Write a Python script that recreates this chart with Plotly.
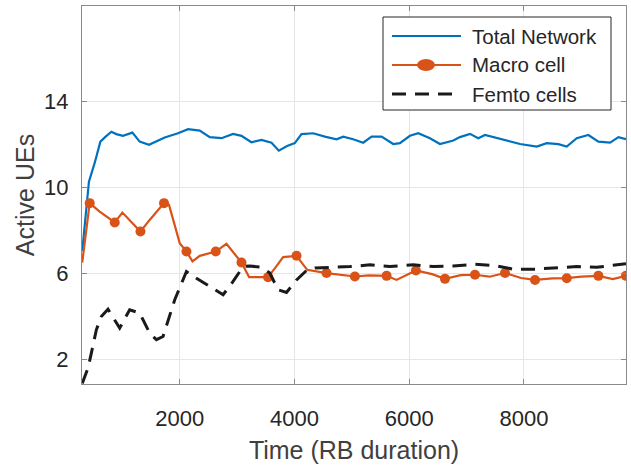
import plotly.graph_objects as go

# ---------------- data ----------------
total_x = [300, 417, 517, 616, 708, 808, 895, 1010, 1175, 1302, 1464, 1593, 1738, 1970, 2145,
           2349, 2523, 2727, 2930, 3076, 3250, 3425, 3600, 3727, 3872, 4006, 4123, 4326, 4530,
           4734, 4850, 5024, 5198, 5345, 5519, 5722, 5839, 6013, 6158, 6362, 6537, 6769, 6885,
           7060, 7205, 7322, 7467, 7700, 7933, 8224, 8398, 8601, 8747, 8921, 9124, 9299, 9503,
           9648, 9780]
total_y = [7.05, 10.28, 11.15, 12.14, 12.37, 12.6, 12.49, 12.41, 12.56, 12.14, 11.99, 12.14, 12.33,
           12.53, 12.72, 12.65, 12.35, 12.30, 12.50, 12.41, 12.11, 12.22, 12.09, 11.72, 11.94,
           12.07, 12.49, 12.53, 12.37, 12.25, 12.37, 12.25, 12.09, 12.37, 12.37, 12.03, 12.07,
           12.41, 12.53, 12.30, 12.03, 12.19, 12.35, 12.50, 12.30, 12.45, 12.35, 12.22, 12.03,
           11.91, 12.07, 12.02, 11.91, 12.30, 12.45, 12.14, 12.09, 12.35, 12.25]

macro_x = [300, 430, 604, 867, 1000, 1315, 1476, 1726, 1813, 2000, 2117, 2222, 2349, 2628, 2814,
           3076, 3209, 3540, 3680, 3803, 4036, 4221, 4559, 4800, 5053, 5300, 5606, 5780, 6117,
           6400, 6624, 6900, 7147, 7400, 7671, 7950, 8194, 8500, 8747, 9000, 9299, 9550, 9780]
macro_y = [6.52, 9.28, 8.89, 8.38, 8.84, 7.96, 8.50, 9.28, 9.20, 7.42, 7.03, 6.57, 6.83, 7.03, 7.39,
           6.52, 5.84, 5.84, 6.33, 6.77, 6.83, 6.18, 6.03, 5.95, 5.87, 5.92, 5.90, 5.71, 6.15,
           5.98, 5.76, 5.93, 5.95, 5.86, 6.03, 5.80, 5.71, 5.78, 5.79, 5.86, 5.90, 5.75, 5.90]
macro_mark_x = [430, 867, 1315, 1726, 2117, 2628, 3076, 3540, 4036, 4559, 5053, 5606, 6117,
                6624, 7147, 7671, 8194, 8747, 9299, 9780]
macro_mark_y = [9.28, 8.38, 7.96, 9.28, 7.03, 7.03, 6.52, 5.84, 6.83, 6.03, 5.87, 5.90, 6.15,
                5.76, 5.95, 6.03, 5.71, 5.79, 5.90, 5.90]

femto_x = [300, 400, 459, 546, 633, 749, 953, 1127, 1302, 1476, 1593, 1709, 1913, 2117, 2291,
           2581, 2756, 2930, 3105, 3221, 3425, 3570, 3715, 3861, 4036, 4211, 4355, 4675, 4966,
           5316, 5664, 6072, 6420, 6769, 7147, 7496, 7816, 8194, 8544, 8921, 9270, 9648, 9780]
femto_y = [0.9, 1.61, 2.31, 3.39, 4.01, 4.35, 3.47, 4.32, 4.17, 3.24, 2.93, 3.08, 4.79, 6.10, 5.79,
           5.33, 5.02, 5.64, 6.33, 6.36, 6.30, 6.03, 5.25, 5.13, 5.71, 6.15, 6.26, 6.30, 6.33,
           6.41, 6.33, 6.41, 6.33, 6.36, 6.44, 6.38, 6.21, 6.21, 6.26, 6.33, 6.30, 6.44, 6.46]

x_ticks = [2000, 4000, 6000, 8000]
y_ticks = [2, 6, 10, 14]
series_names = ["Total Network", "Macro cell", "Femto cells"]

BLUE = "#0072BD"
ORANGE = "#D95319"
BLACK = "#1a1a1a"
FONT = "Liberation Sans, Arial, sans-serif"

# ---------------- layout geometry ----------------
W, H = 631, 468
L, R, T, B = 82, 626, 6, 384


def px(xp):
    return (xp - L) / (R - L)


def py(yp):
    return (B - yp) / (B - T)


fig = go.Figure()
fig.add_trace(go.Scatter(x=total_x, y=total_y, mode="lines", name=series_names[0],
                         line=dict(color=BLUE, width=2.2), showlegend=False))
fig.add_trace(go.Scatter(x=macro_x, y=macro_y, mode="lines", name=series_names[1],
                         line=dict(color=ORANGE, width=2.2), showlegend=False))
fig.add_trace(go.Scatter(x=macro_mark_x, y=macro_mark_y, mode="markers", name=series_names[1],
                         marker=dict(color=ORANGE, size=10, line=dict(width=0)), showlegend=False))
fig.add_trace(go.Scatter(x=femto_x, y=femto_y, mode="lines", name=series_names[2],
                         line=dict(color=BLACK, width=3, dash="14px,9px"), showlegend=False))

# ---------------- manual legend (MATLAB style) ----------------
shapes = [dict(type="rect", xref="paper", yref="paper", x0=px(383), x1=px(611), y0=py(110), y1=py(17),
               line=dict(color="#262626", width=1), fillcolor="white", layer="above")]
rows = [36, 65, 94]
styles = [dict(color=BLUE, width=2.2), dict(color=ORANGE, width=2.2),
          dict(color=BLACK, width=3, dash="14px,9px")]
annotations = []
for name, yy, st in zip(series_names, rows, styles):
    shapes.append(dict(type="line", xref="paper", yref="paper", x0=px(392), x1=px(461), y0=py(yy), y1=py(yy),
                       line=st, layer="above"))
    annotations.append(dict(text=name, xref="paper", yref="paper", x=px(470), y=py(yy), xanchor="left",
                            yanchor="middle", showarrow=False,
                            font=dict(family=FONT, size=20.5, color="#262626")))
shapes.append(dict(type="circle", xref="paper", yref="paper", x0=px(417), x1=px(435), y0=py(71), y1=py(59),
                   fillcolor=ORANGE, line=dict(color=ORANGE, width=0), layer="above"))

axis_common = dict(showline=True, linecolor="#8a8a8a", linewidth=1.2, mirror="ticks", ticks="inside",
                   ticklen=5, tickcolor="#8a8a8a", tickwidth=1, showgrid=True, gridcolor="#e6e6e6",
                   gridwidth=1, zeroline=False, automargin=False,
                   tickfont=dict(family=FONT, size=22, color="#262626"))

fig.update_layout(
    width=W, height=H,
    margin=dict(l=L, r=W - R, t=T, b=H - B, autoexpand=False),
    paper_bgcolor="white", plot_bgcolor="white",
    showlegend=False,
    xaxis=dict(range=[296, 9780], tickvals=x_ticks, ticktext=[str(v) for v in x_ticks],
               ticklabelstandoff=14,
               title=dict(text="Time (RB duration)", standoff=11,
                          font=dict(family=FONT, size=25, color="#404040")),
               **axis_common),
    yaxis=dict(range=[0.871, 18.446], tickvals=y_ticks, ticktext=[str(v) for v in y_ticks],
               ticklabelstandoff=8,
               title=dict(text="Active UEs", standoff=2,
                          font=dict(family=FONT, size=25, color="#404040")),
               **axis_common),
    shapes=shapes,
    annotations=annotations,
)

fig.write_html("out.html", config={"displayModeBar": False},
               post_script="document.body.style.margin='0px';")
